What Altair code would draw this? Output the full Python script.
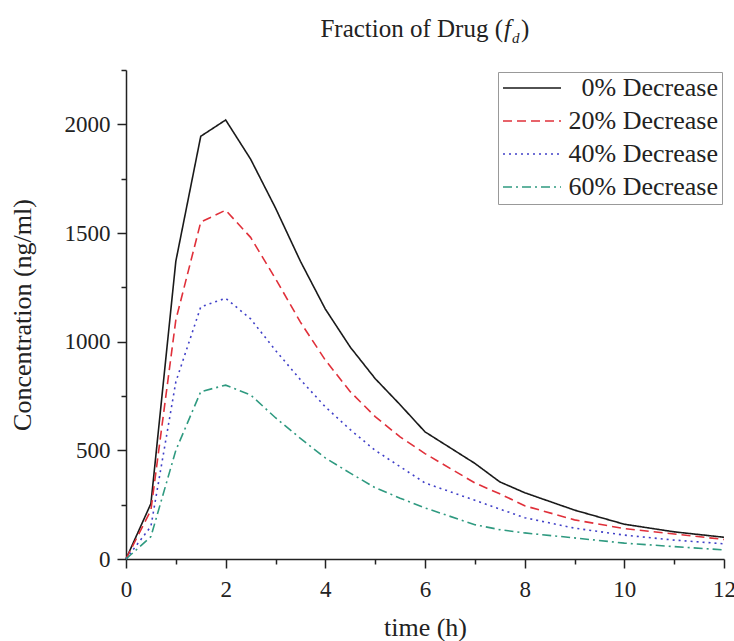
import altair as alt
import pandas as pd

# ---- data ----
times = [0, 0.5, 1, 1.5, 2, 2.5, 3, 3.5, 4, 4.5, 5, 5.5, 6, 7, 7.5, 8, 9, 10, 11, 12]
series_names = ["0% Decrease", "20% Decrease", "40% Decrease", "60% Decrease"]
conc_0 = [0, 255, 1370, 1945, 2020, 1840, 1615, 1370, 1150, 975, 830, 710, 585, 440, 355, 305, 225, 160, 125, 100]
conc_20 = [0, 225, 1100, 1550, 1605, 1480, 1290, 1090, 915, 770, 655, 562, 485, 350, 300, 245, 180, 140, 115, 90]
conc_40 = [0, 150, 815, 1160, 1200, 1105, 960, 825, 700, 595, 500, 425, 350, 270, 230, 190, 142, 110, 87, 70]
conc_60 = [0, 103, 500, 770, 800, 755, 650, 555, 465, 395, 328, 280, 235, 158, 135, 120, 97, 73, 57, 42]

x_major = [0, 2, 4, 6, 8, 10, 12]
x_minor = [1, 3, 5, 7, 9, 11]
y_major = [0, 500, 1000, 1500, 2000]
y_minor = [250, 750, 1250, 1750, 2250]

colors = ["#1a1a1a", "#e0303a", "#4040c8", "#2f9a80"]
dashes = [[1, 0], [9, 5], [2, 4], [9, 4, 2, 4]]

rows = []
for name, vals in zip(series_names, [conc_0, conc_20, conc_40, conc_60]):
    for t, v in zip(times, vals):
        rows.append({"t": t, "c": v, "series": name})
df = pd.DataFrame(rows)

FONT = "Liberation Serif"
xscale = alt.Scale(domain=[0, 12], nice=False, zero=False)
yscale = alt.Scale(domain=[0, 2250], nice=False)

lines = alt.Chart(df).mark_line(strokeWidth=1.6).encode(
    x=alt.X("t:Q", scale=xscale,
            axis=alt.Axis(values=x_major, orient="bottom", tickSize=9, labelPadding=10,
                          title="time (h)", titleX=299, titleY=68, titleBaseline="middle",
                          titleFontSize=26, labelFontSize=23, labelFlush=False,
                          labelOverlap=False)),
    y=alt.Y("c:Q", scale=yscale,
            axis=alt.Axis(values=y_major, orient="left", format="d", tickSize=9, labelPadding=7,
                          title="Concentration (ng/ml)", titleX=-104, titleY=244.5,
                          titleBaseline="middle", titleFontSize=26, labelFontSize=23,
                          labelOverlap=False)),
    color=alt.Color("series:N", scale=alt.Scale(domain=series_names, range=colors),
                    legend=alt.Legend(title=None, orient="top-right", offset=2, padding=4,
                                      strokeColor="#999", symbolType="stroke", symbolSize=3364,
                                      symbolStrokeWidth=1.6, clipHeight=24, rowPadding=7,
                                      labelAlign="right", labelOffset=156,
                                      labelFontSize=26, labelLimit=0)),
    strokeDash=alt.StrokeDash("series:N", scale=alt.Scale(domain=series_names, range=dashes),
                              legend=None),
    order="t:Q",
)

minor = alt.Chart(df).mark_line(opacity=0).encode(
    x=alt.X("t:Q", scale=xscale,
            axis=alt.Axis(values=x_minor, orient="bottom", tickSize=5, labels=False, domain=False,
                          title=None)),
    y=alt.Y("c:Q", scale=yscale,
            axis=alt.Axis(values=y_minor, orient="left", tickSize=5, labels=False, domain=False,
                          title=None)),
    detail="series:N",
)

one = pd.DataFrame({"k": [0]})
t1 = alt.Chart(one).mark_text(align="right", baseline="alphabetic", fontSize=25, font=FONT,
                              color="#222").encode(
    x=alt.value(377), y=alt.value(-33), text=alt.value("Fraction of Drug ("))
t2 = alt.Chart(one).mark_text(align="left", baseline="alphabetic", fontSize=25, font=FONT,
                              fontStyle="italic", color="#222").encode(
    x=alt.value(378), y=alt.value(-33), text=alt.value("f"))
t3 = alt.Chart(one).mark_text(align="left", baseline="alphabetic", fontSize=15, font=FONT,
                              fontStyle="italic", color="#222").encode(
    x=alt.value(386), y=alt.value(-27), text=alt.value("d"))
t4 = alt.Chart(one).mark_text(align="left", baseline="alphabetic", fontSize=25, font=FONT,
                              color="#222").encode(
    x=alt.value(395), y=alt.value(-33), text=alt.value(")"))

chart = alt.layer(lines, minor, t1, t2, t3, t4).resolve_axis(
    x="independent", y="independent"
).properties(
    width=598, height=489,
    padding={"left": 126, "top": 70, "right": 10, "bottom": 82},
    autosize=alt.AutoSizeParams(type="none"),
    background="white",
).configure(
    font=FONT
).configure_axis(
    labelFont=FONT, titleFont=FONT, labelColor="#222", titleColor="#222",
    titleFontWeight="normal", grid=False, domainColor="#222", domainWidth=1.5,
    tickColor="#222", tickWidth=1.5
).configure_legend(
    labelFont=FONT, labelColor="#222"
).configure_text(
    font=FONT
).configure_view(stroke=None)

chart.save("out.html", embed_options={"renderer": "svg", "actions": False})
